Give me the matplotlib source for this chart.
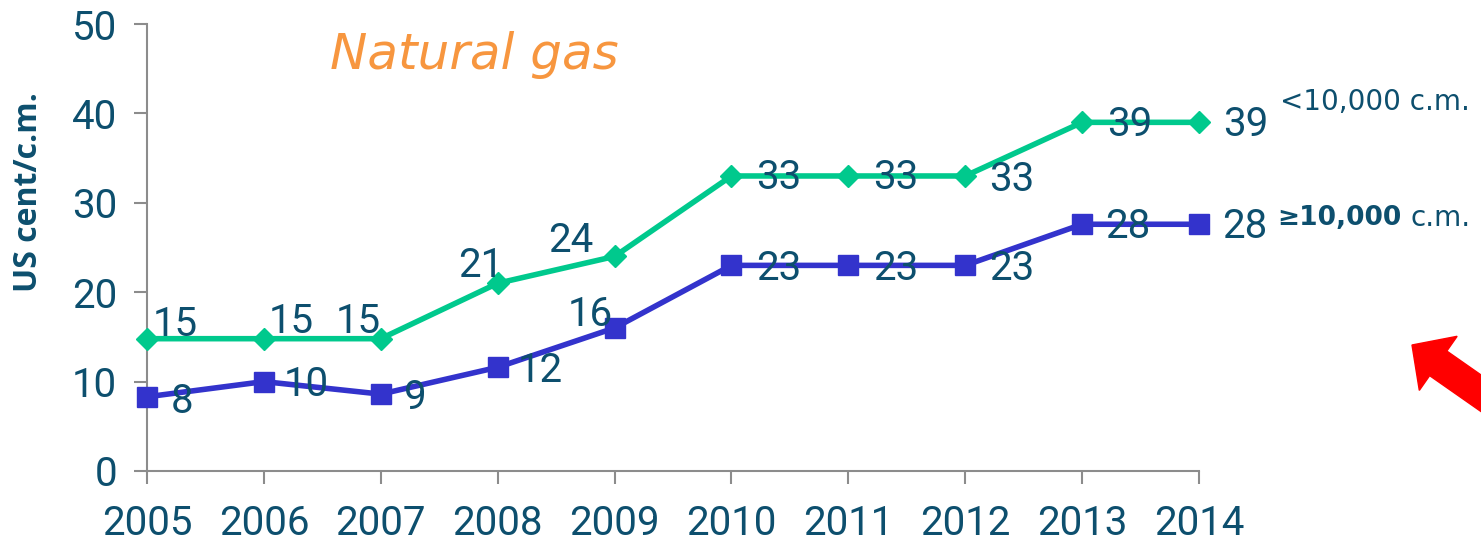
import matplotlib
matplotlib.use('Agg')
import matplotlib.pyplot as plt
from matplotlib.patches import FancyArrow
from matplotlib.transforms import IdentityTransform

# Data
years     = [2005, 2006, 2007, 2008, 2009, 2010, 2011, 2012, 2013, 2014]
small     = [14.8, 14.8, 14.8, 21.0, 24.0, 33.0, 33.0, 33.0, 39.0, 39.0]   # <10,000 c.m.
large     = [8.3, 10.0, 8.6, 11.6, 16.0, 23.0, 23.0, 23.0, 27.6, 27.6]     # >=10,000 c.m.
small_lbl = ['15', '15', '15', '21', '24', '33', '33', '33', '39', '39']
large_lbl = ['8', '10', '9', '12', '16', '23', '23', '23', '28', '28']
yticks    = [0, 10, 20, 30, 40, 50]

green  = '#00c98d'
blue   = '#3333cc'
navy   = '#0d4f6e'
orange = '#f7963f'
grey   = '#8c8c8c'

# label offsets in pixels
small_off = [(28, 14), (27, 17), (-23, 17), (-17, 18), (-44, 16),
             (47, -2), (47, -2), (47, -4), (48, -2), (47, -2)]
large_off = [(35, -5), (42, -3), (35, -3), (43, -3), (-24, 13),
             (47, -3), (47, -3), (47, -3), (46, -2), (46, -2)]

fig = plt.figure(figsize=(14.81, 5.45), dpi=100)
ax = fig.add_axes([147/1481, 74/545, (1199-147)/1481, (471-24)/545])

ax.plot(years, small, color=green, lw=4, marker='D', ms=11, clip_on=False, zorder=3)
ax.plot(years, large, color=blue, lw=4, marker='s', ms=14, clip_on=False, zorder=3)

for x, y, t, o in zip(years, small, small_lbl, small_off):
    ax.annotate(t, (x, y), xytext=o, textcoords='offset pixels', ha='center', va='center',
                fontsize=29, color=navy, family='Roboto', zorder=4)
for x, y, t, o in zip(years, large, large_lbl, large_off):
    ax.annotate(t, (x, y), xytext=o, textcoords='offset pixels', ha='center', va='center',
                fontsize=29, color=navy, family='Roboto', zorder=4)

ax.set_xlim(2005, 2014)
ax.set_ylim(0, 50)
ax.set_xticks(years)
ax.set_yticks(yticks)
ax.tick_params(axis='both', colors=grey, width=1.5, length=9.5, labelcolor=navy, labelsize=29)
for lab in ax.get_xticklabels() + ax.get_yticklabels():
    lab.set_family('Roboto')
ax.tick_params(axis='x', pad=14)
ax.tick_params(axis='y', pad=12)
for s in ['top', 'right']:
    ax.spines[s].set_visible(False)
for s in ['left', 'bottom']:
    ax.spines[s].set_color(grey)
    ax.spines[s].set_linewidth(1.5)

ax.set_ylabel('US cent/c.m.', fontsize=23, fontweight='bold', color=navy, family='Open Sans',
              va='center', ha='center')
ax.yaxis.set_label_coords(-0.113, 0.624)

fig.text(330/1481, 1-55/545, 'Natural gas', fontsize=36, style='italic', color=orange,
         family='DejaVu Sans', va='center', ha='left')

fig.text(1280/1481, 1-102/545, '<10,000 c.m.', fontsize=20, color=navy,
         family='DejaVu Sans', va='center', ha='left')
fig.text(1402/1481, 1-218/545, '≥10,000', fontsize=19, color=navy, fontweight='bold',
         family='DejaVu Sans', va='center', ha='right')
fig.text(1410/1481, 1-218/545, 'c.m.', fontsize=20, color=navy,
         family='DejaVu Sans', va='center', ha='left')

# red arrow (pixel coordinates), cut by the right edge
arr = FancyArrow(1535, 114, -123, 86, width=30, head_width=66, head_length=32,
                 length_includes_head=True, color='red',
                 transform=IdentityTransform(), figure=fig)
fig.patches.append(arr)

fig.savefig('out.png', dpi=100)
